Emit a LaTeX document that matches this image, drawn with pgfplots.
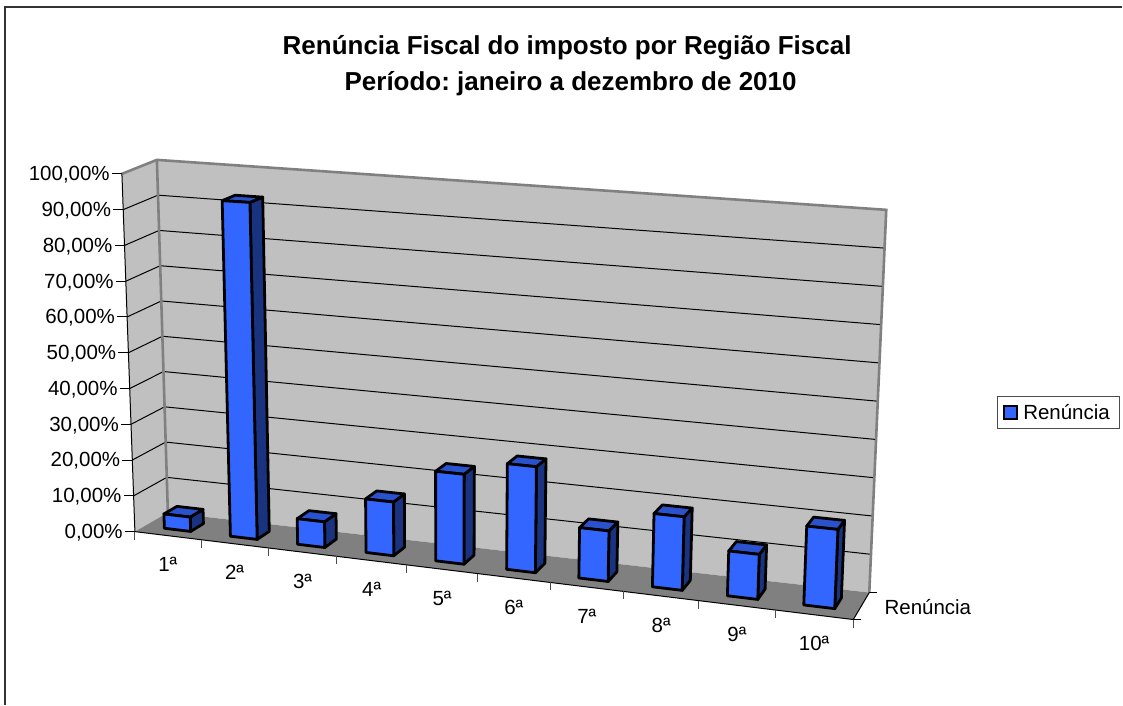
\documentclass[border=0pt]{standalone}
\usepackage{fontspec}
\setmainfont{Liberation Sans}
\usepackage{pgfplots}
\usepackage{pgfplotstable}
\pgfplotsset{compat=1.18}
\frenchspacing

\definecolor{barfront}{RGB}{51,102,255}
\definecolor{barside}{RGB}{26,51,128}
\definecolor{bartop}{RGB}{41,82,204}
\definecolor{wall}{RGB}{192,192,192}
\definecolor{floorgray}{RGB}{128,128,128}

% renuncia per regiao fiscal, in percent
\pgfplotstableread{
regiao valor
1  4
2  92.9
3  7
4  14.5
5  24
6  28
7  13.2
8  19
9  11.5
10 20
}\renuncia

% category, depth (0..1), value (0..100) -> picture position in \prX,\prY
\newcommand\project[3]{%
  \pgfmathsetmacro\prU{.0913*#1/(1-.0087*#1)}%
  \pgfmathsetmacro\prV{#3/100}%
  \pgfmathsetmacro\prX{(1-\prV)*((1-#2)*(135+719*\prU)+#2*(168+702*\prU))+\prV*((1-#2)*(122+749*\prU)+#2*(157+730*\prU))}%
  \pgfmathsetmacro\prY{(1-\prV)*((1-#2)*(532+88*\prU)+#2*(513+80*\prU))+\prV*((1-#2)*(174+42*\prU)+#2*(160+50*\prU))}%
}
\newcommand\startpts{\gdef\pts{}}
\newcommand\addpt[3]{\project{#1}{#2}{#3}\xdef\pts{\pts(\prX,\prY)}}
\newcommand\drawface[1]{\edef\temp{\noexpand\addplot[forget plot,#1] coordinates {\pts} --cycle;}\temp}
\newcommand\drawline[1]{\edef\temp{\noexpand\addplot[forget plot,#1] coordinates {\pts};}\temp}
\newcommand\segment[7]{\startpts\addpt{#2}{#3}{#4}\addpt{#5}{#6}{#7}\drawline{#1}}

\tikzset{
  lbl/.style={font=\fontsize{20.5}{24}\selectfont,inner sep=0pt},
  ttl/.style={font=\fontsize{26}{28}\selectfont\bfseries,inner sep=0pt},
  barline/.style={draw=black,line width=2.8pt,line join=round},
}

\begin{document}
\begin{tikzpicture}
\begin{axis}[
    scale only axis,
    width=1123pt,
    height=705pt,
    xmin=0, xmax=1123,
    ymin=0, ymax=705,
    y dir=reverse,
    hide axis,
    clip=false,
    legend style={at={(axis cs:998,396)},anchor=north west,draw=black!70,line width=1pt,
      font=\fontsize{20.5}{24}\selectfont,inner xsep=5pt,inner ysep=6pt,legend cell align=left},
]
% page extent
\path (axis cs:0,0) (axis cs:1123,705);
% outer frame: only left and top are inside the crop
\addplot[forget plot,draw=black!80,line width=1.6pt] coordinates {(5,705)(5,7)(1123,7)};

% walls and floor
\startpts\addpt{0}{0}{0}\addpt{0}{1}{0}\addpt{0}{1}{100}\addpt{0}{0}{100}\drawface{fill=wall,draw=none}
\startpts\addpt{0}{1}{0}\addpt{10}{1}{0}\addpt{10}{1}{100}\addpt{0}{1}{100}\drawface{fill=wall,draw=none}
\startpts\addpt{0}{0}{0}\addpt{10}{0}{0}\addpt{10}{1}{0}\addpt{0}{1}{0}\drawface{fill=floorgray,draw=none}

% grid lines
\pgfplotsforeachungrouped \z in {10,20,...,90}{
  \startpts\addpt{0}{0}{\z}\addpt{0}{1}{\z}\addpt{10}{1}{\z}\drawline{draw=black,line width=1pt}
}
% wall edges
\startpts\addpt{0}{0}{100}\addpt{0}{1}{100}\addpt{10}{1}{100}\addpt{10}{1}{0}\drawline{draw=floorgray,line width=2.6pt}
\segment{draw=floorgray,line width=2.6pt}{0}{1}{100}{0}{1}{0}

% axis lines
\segment{draw=black,line width=1pt}{0}{0}{100}{0}{0}{0}
\segment{draw=black,line width=1pt}{0}{0}{0}{10}{0}{0}
\segment{draw=black,line width=1pt}{10}{0}{0}{10}{1}{0}

% value axis ticks and labels
\pgfplotsforeachungrouped \z in {0,10,...,100}{
  \project{0}{0}{\z}
  \pgfmathsetmacro\tx{\prX-10}
  \pgfmathsetmacro\lx{\prX-12}
  \pgfmathsetmacro\ly{\prY+1}
  \edef\temp{\noexpand\addplot[forget plot,draw=black,line width=1pt] coordinates {(\tx,\prY)(\prX,\prY)};
    \noexpand\node[lbl,anchor=east] at (axis cs:\lx,\ly) {\z,00\noexpand\%};}\temp
}

% category ticks
\pgfplotsforeachungrouped \c in {0,1,...,10}{
  \project{\c}{0}{0}
  \pgfmathsetmacro\ty{\prY+8}
  \edef\temp{\noexpand\addplot[forget plot,draw=black!70,line width=1pt] coordinates {(\prX,\prY)(\prX,\ty)};}\temp
}
% depth axis ticks and label
\project{10}{0}{0}
\pgfmathsetmacro\tx{\prX+8}
\edef\temp{\noexpand\addplot[forget plot,draw=black,line width=1pt] coordinates {(\prX,\prY)(\tx,\prY)};}\temp
\project{10}{1}{0}
\pgfmathsetmacro\tx{\prX+8}
\edef\temp{\noexpand\addplot[forget plot,draw=black,line width=1pt] coordinates {(\prX,\prY)(\tx,\prY)};}\temp
\node[lbl,anchor=west] at (axis cs:885,607) {Renúncia};

% bars, left to right
\pgfplotsforeachungrouped \r in {0,1,...,9}{
  \pgfplotstablegetelem{\r}{valor}\of\renuncia
  \let\val\pgfplotsretval
  \pgfmathsetmacro\xa{\r+.3}
  \pgfmathsetmacro\xb{\r+.7}
  \startpts\addpt{\xb}{.3}{0}\addpt{\xb}{.7}{0}\addpt{\xb}{.7}{\val}\addpt{\xb}{.3}{\val}\drawface{fill=barside,barline}
  \startpts\addpt{\xa}{.3}{\val}\addpt{\xb}{.3}{\val}\addpt{\xb}{.7}{\val}\addpt{\xa}{.7}{\val}\drawface{fill=bartop,barline}
  \startpts\addpt{\xa}{.3}{0}\addpt{\xb}{.3}{0}\addpt{\xb}{.3}{\val}\addpt{\xa}{.3}{\val}\drawface{fill=barfront,barline}
  % category label
  \pgfmathsetmacro\cc{\r+.5}
  \project{\cc}{0}{0}
  \pgfmathsetmacro\ly{\prY+29}
  \pgfmathtruncatemacro\n{\r+1}
  \edef\temp{\noexpand\node[lbl] at (axis cs:\prX,\ly) {\n ª};}\temp
}

% title
\node[ttl] at (axis cs:567.5,48) {Renúncia Fiscal do imposto por Região Fiscal};
\node[ttl] at (axis cs:571,84) {Período: janeiro a dezembro de 2010};

\addlegendimage{legend image code/.code={\draw[fill=barfront,draw=black,line width=2pt] (0pt,-6.5pt) rectangle (13pt,6.5pt); \path (0pt,0pt) (17pt,0pt);}}
\addlegendentry{Renúncia\hspace*{3pt}}
\end{axis}
\end{tikzpicture}
\end{document}
